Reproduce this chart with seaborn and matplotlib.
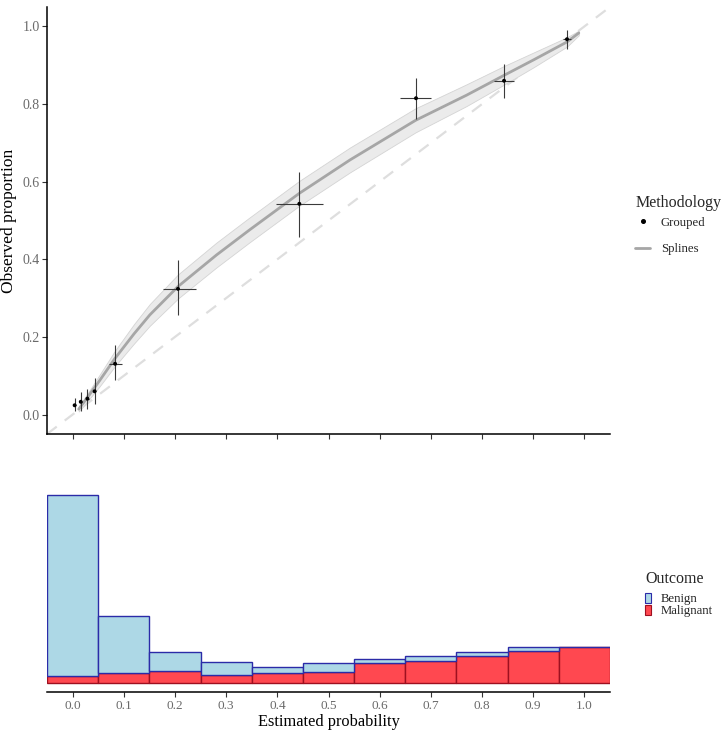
import numpy as np
import pandas as pd
import matplotlib
matplotlib.use("Agg")
import matplotlib.pyplot as plt
from matplotlib.lines import Line2D
from matplotlib.patches import Patch
import seaborn as sns

# ---- data ----
# grouped observations
grp_x = [0.004, 0.016, 0.029, 0.043, 0.083, 0.206, 0.443, 0.671, 0.843, 0.966]
grp_y = [0.024, 0.033, 0.041, 0.060, 0.131, 0.324, 0.543, 0.815, 0.860, 0.967]
grp_ylo = [0.008, 0.010, 0.015, 0.028, 0.088, 0.257, 0.457, 0.761, 0.815, 0.941]
grp_yhi = [0.044, 0.057, 0.067, 0.095, 0.180, 0.398, 0.625, 0.866, 0.903, 0.991]
grp_xlo = [0.002, 0.013, 0.026, 0.040, 0.072, 0.177, 0.397, 0.639, 0.823, 0.959]
grp_xhi = [0.006, 0.019, 0.032, 0.046, 0.097, 0.242, 0.490, 0.701, 0.863, 0.973]

# spline calibration curve with confidence band
spl_x = [0.012, 0.030, 0.053, 0.083, 0.120, 0.151, 0.206, 0.281, 0.346,
         0.443, 0.542, 0.670, 0.770, 0.843, 0.901, 0.966, 0.989]
spl_y = [0.014, 0.046, 0.088, 0.145, 0.208, 0.257, 0.330, 0.411, 0.476,
         0.570, 0.656, 0.758, 0.823, 0.874, 0.914, 0.960, 0.983]
spl_lo = [0.008, 0.036, 0.073, 0.125, 0.183, 0.229, 0.299, 0.379, 0.444,
          0.538, 0.624, 0.727, 0.795, 0.850, 0.895, 0.948, 0.977]
spl_hi = [0.020, 0.056, 0.103, 0.165, 0.233, 0.285, 0.361, 0.443, 0.508,
          0.602, 0.688, 0.789, 0.851, 0.898, 0.933, 0.972, 0.989]

# histogram of estimated probabilities
bin_centers = [0.0, 0.1, 0.2, 0.3, 0.4, 0.5, 0.6, 0.7, 0.8, 0.9, 1.0]
benign_counts = [544, 172, 56, 40, 19, 27, 13, 14, 12, 13, 1]
malignant_counts = [21, 28, 35, 22, 29, 33, 59, 66, 80, 96, 108]

y_ticks = [0.0, 0.2, 0.4, 0.6, 0.8, 1.0]
x_ticks = [0.0, 0.1, 0.2, 0.3, 0.4, 0.5, 0.6, 0.7, 0.8, 0.9, 1.0]

# ---- styling ----
sns.set_style("white")
plt.rcParams["font.family"] = ["Liberation Serif", "DejaVu Serif"]

W, H = 727, 736
fig = plt.figure(figsize=(W / 100, H / 100), dpi=100)
ax1 = fig.add_axes([47 / W, 1 - 434 / H, (610 - 47) / W, (434 - 7) / H])
ax2 = fig.add_axes([47 / W, 1 - 692 / H, (610 - 47) / W, (692 - 486) / H])

tick_col = "#6A6A6A"

# ---- top panel ----
ax1.axline((0, 0), (1, 1), color="#DEDEDE", lw=1.6, ls=(0, (5.5, 4.5)), zorder=1)
ax1.fill_between(spl_x, spl_lo, spl_hi, color="#EBEBEB", edgecolor="#D4D4D4",
                 lw=0.6, zorder=2)
sns.lineplot(x=spl_x, y=spl_y, ax=ax1, color="#A6A6A6", lw=2.0,
             estimator=None, sort=False, zorder=3)
gx = np.array(grp_x)
gy = np.array(grp_y)
ax1.errorbar(gx, gy,
             yerr=[gy - np.array(grp_ylo), np.array(grp_yhi) - gy],
             xerr=[gx - np.array(grp_xlo), np.array(grp_xhi) - gx],
             fmt="none", ecolor="#3A3A3A", elinewidth=0.8, capsize=0, zorder=4)
sns.scatterplot(x=grp_x, y=grp_y, ax=ax1, color="black", s=8,
                edgecolor="none", zorder=5)

ax1.set_xlim(-0.05, 1.05)
ax1.set_ylim(-0.05, 1.05)
ax1.set_yticks(y_ticks)
ax1.set_yticklabels([f"{v:.1f}" for v in y_ticks])
ax1.set_xticks(x_ticks)
ax1.set_xticklabels([])
ax1.set_ylabel("Observed proportion", fontsize=12.5, color="black", labelpad=4)
ax1.set_xlabel("")
for s in ["top", "right"]:
    ax1.spines[s].set_visible(False)
for s in ["left", "bottom"]:
    ax1.spines[s].set_color("black")
    ax1.spines[s].set_linewidth(1.1)
ax1.tick_params(axis="both", direction="out", length=3.5, width=0.8,
                color="#333333", labelcolor=tick_col, labelsize=10, pad=1.5,
                left=True, bottom=True)

# ---- bottom panel ----
df = pd.DataFrame({
    "p": bin_centers * 2,
    "n": benign_counts + malignant_counts,
    "Outcome": ["Benign"] * len(bin_centers) + ["Malignant"] * len(bin_centers),
})
benign_fill, malig_fill = "#ADD8E6", "#FF4850"
benign_edge, malig_edge = "#2B2BA8", "#9E1020"
sns.histplot(data=df, x="p", weights="n", hue="Outcome",
             hue_order=["Benign", "Malignant"], multiple="stack",
             binwidth=0.1, binrange=(-0.05, 1.05),
             palette={"Benign": benign_fill, "Malignant": malig_fill},
             alpha=1, ax=ax2, legend=False, linewidth=1.0)
# edge colours per outcome
for patch in ax2.patches:
    fc = patch.get_facecolor()
    if fc[0] > 0.9 and fc[1] < 0.5:
        patch.set_edgecolor(malig_edge)
    else:
        patch.set_edgecolor(benign_edge)

tot_max = max(b + m for b, m in zip(benign_counts, malignant_counts))
ax2.set_xlim(-0.05, 1.05)
ax2.set_ylim(-0.05 * tot_max, 1.05 * tot_max)
ax2.set_xticks(x_ticks)
ax2.set_xticklabels([f"{v:.1f}" for v in x_ticks])
ax2.set_yticks([])
ax2.set_ylabel("")
ax2.set_xlabel("Estimated probability", fontsize=11.8, color="black", labelpad=1)
for s in ["top", "right", "left"]:
    ax2.spines[s].set_visible(False)
ax2.spines["bottom"].set_color("black")
ax2.spines["bottom"].set_linewidth(1.1)
ax2.tick_params(axis="x", direction="out", length=3.5, width=0.8,
                color="#333333", labelcolor=tick_col, labelsize=9.5, pad=2.5,
                bottom=True)

# ---- legends ----
h_meth = [
    Line2D([], [], marker="o", ls="none", color="black", markersize=2.6),
    Line2D([], [], color="#A6A6A6", lw=2.0),
]
leg1 = fig.legend(h_meth, ["Grouped", "Splines"], title="Methodology",
                  loc="upper left", bbox_to_anchor=(630 / W, 1 - 190 / H),
                  frameon=False, fontsize=9.2, title_fontsize=11.5,
                  handlelength=1.2, handletextpad=0.8, labelspacing=1.15,
                  borderaxespad=0)
leg1._legend_box.align = "left"
leg1._legend_box.sep = 4

h_out = [
    Patch(facecolor=benign_fill, edgecolor=benign_edge, lw=0.8),
    Patch(facecolor=malig_fill, edgecolor=malig_edge, lw=0.8),
]
leg2 = fig.legend(h_out, ["Benign", "Malignant"], title="Outcome",
                  loc="upper left", bbox_to_anchor=(640 / W, 1 - 566 / H),
                  frameon=False, fontsize=9.2, title_fontsize=11.5,
                  handlelength=0.45, handleheight=0.85, handletextpad=0.8,
                  labelspacing=-0.05, borderaxespad=0)
leg2._legend_box.align = "left"
leg2._legend_box.sep = 4

fig.savefig("out.png", dpi=100)
